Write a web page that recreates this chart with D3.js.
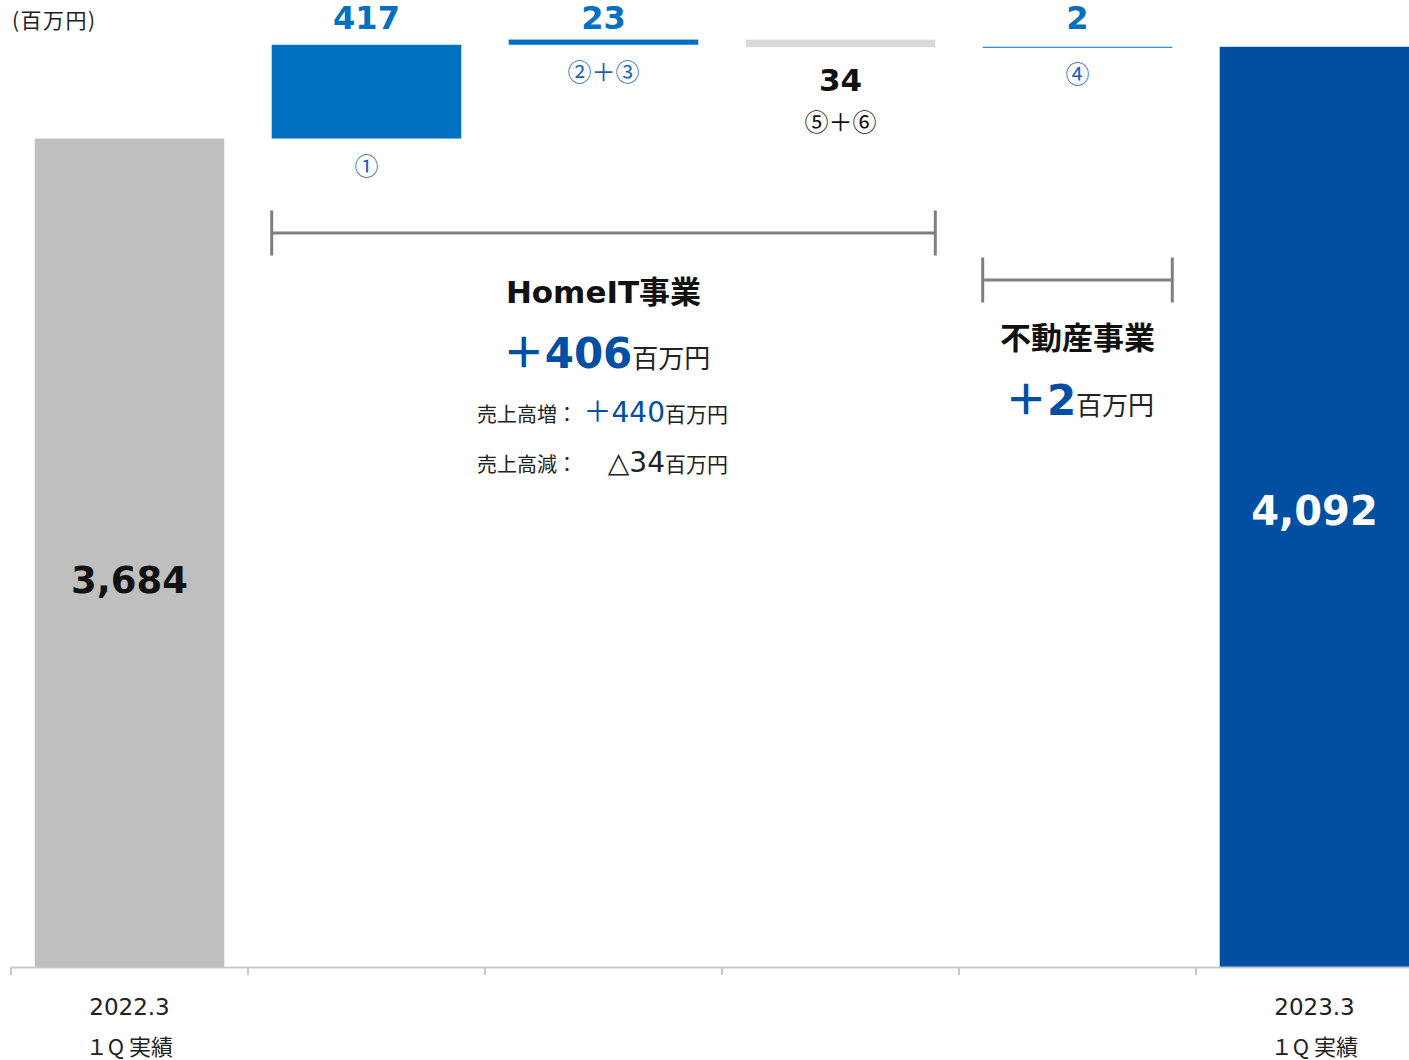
<!DOCTYPE html>
<html lang="ja">
<head>
<meta charset="utf-8">
<script src="https://cdn.jsdelivr.net/npm/d3@7"></script>
<style>
  html, body { margin: 0; padding: 0; background: #fff; }
  svg { display: block; }
  text { font-family: "DejaVu Sans", "Noto Sans CJK JP", sans-serif; }
  .jp { font-family: "Noto Sans CJK JP", "DejaVu Sans", sans-serif; }
</style>
</head>
<body>
<svg id="chart" width="1409" height="1060"></svg>
<script>
// Operating profit bridge, 2022.3 1Q → 2023.3 1Q (百万円)
const categories = ["start", "d1", "d23", "d56", "d4", "end"];
const startValue = 3684;
const endValue = 4092;
const deltaValues = [417, 23, -34, 2];          // ①, ②+③, ⑤+⑥, ④
const deltaLabels = ["417", "23", "34", "2"];
const circledLabels = ["①", "②＋③", "⑤＋⑥", "④"];
const totalLabels = ["3,684", "4,092"];
const xTickLabels = [["2022.3", "１Q 実績"], ["", ""], ["", ""], ["", ""], ["", ""], ["2023.3", "１Q 実績"]];

const BLUE = "#0070c0";
const DARK_BLUE = "#004fa3";
const GRAY = "#bfbfbf";
const LIGHT_GRAY = "#d9d9d9";
const BRACKET = "#7f7f7f";

const svg = d3.select("#chart");

const x = d3.scaleBand()
  .domain(categories)
  .range([11, 11 + 6 * 237])
  .paddingInner(0.2)
  .paddingOuter(0.1);

const y = d3.scaleLinear().domain([0, 4300]).range([967, 0]);

// build waterfall segments
let running = startValue;
const steps = deltaValues.map((d, i) => {
  const from = running;
  running += d;
  return { key: categories[i + 1], from, to: running, delta: d, label: deltaLabels[i], circ: circledLabels[i] };
});

// totals
svg.append("rect")
  .attr("x", x("start")).attr("width", x.bandwidth())
  .attr("y", y(startValue)).attr("height", y(0) - y(startValue))
  .attr("fill", GRAY);
svg.append("rect")
  .attr("x", x("end")).attr("width", x.bandwidth())
  .attr("y", y(endValue)).attr("height", y(0) - y(endValue))
  .attr("fill", DARK_BLUE);

// change bars
steps.forEach(s => {
  const top = y(Math.max(s.from, s.to));
  const bot = y(Math.min(s.from, s.to));
  svg.append("rect")
    .attr("x", x(s.key)).attr("width", x.bandwidth())
    .attr("y", top).attr("height", Math.max(1, bot - top))
    .attr("fill", s.delta >= 0 ? BLUE : LIGHT_GRAY);
});

// x axis: baseline with ticks at category boundaries
const boundaries = categories.map(c => x(c) - x.step() * x.paddingInner() / 2);
svg.append("line")
  .attr("x1", boundaries[0]).attr("x2", 1409)
  .attr("y1", y(0) + 0.5).attr("y2", y(0) + 0.5)
  .attr("stroke", "#c8c8c8").attr("stroke-width", 2);
boundaries.forEach(bx => {
  svg.append("line")
    .attr("x1", bx).attr("x2", bx)
    .attr("y1", y(0)).attr("y2", y(0) + 8)
    .attr("stroke", "#c8c8c8").attr("stroke-width", 2);
});
categories.forEach((c, i) => {
  const cx = x(c) + x.bandwidth() / 2;
  svg.append("text").attr("x", cx).attr("y", 1015)
    .attr("text-anchor", "middle").attr("font-size", 23).attr("fill", "#222")
    .text(xTickLabels[i][0]);
  svg.append("text").attr("class", "jp").attr("x", cx).attr("y", 1055)
    .attr("text-anchor", "middle").attr("font-size", 22).attr("fill", "#222")
    .text(xTickLabels[i][1]);
});

// unit
svg.append("text").attr("class", "jp").attr("x", 12).attr("y", 28)
  .attr("font-size", 21).attr("letter-spacing", 1.5).attr("fill", "#222").text("(百万円)");

// total labels
svg.append("text")
  .attr("x", x("start") + x.bandwidth() / 2).attr("y", 593)
  .attr("text-anchor", "middle").attr("font-size", 37).attr("font-weight", "bold")
  .attr("fill", "#111").text(totalLabels[0]);
svg.append("text")
  .attr("x", x("end") + x.bandwidth() / 2).attr("y", 525)
  .attr("text-anchor", "middle").attr("font-size", 40).attr("font-weight", "bold")
  .attr("fill", "#fff").text(totalLabels[1]);

// change labels
steps.forEach(s => {
  const cx = x(s.key) + x.bandwidth() / 2;
  const bot = y(Math.min(s.from, s.to));
  if (s.delta >= 0) {
    svg.append("text").attr("x", cx).attr("y", 29)
      .attr("text-anchor", "middle").attr("font-size", 32).attr("font-weight", "bold")
      .attr("fill", BLUE).text(s.label);
    svg.append("text").attr("class", "jp").attr("x", cx).attr("y", bot + 36)
      .attr("text-anchor", "middle").attr("font-size", 24)
      .attr("fill", "#1f5fb0").text(s.circ);
  } else {
    svg.append("text").attr("x", cx).attr("y", bot + 44)
      .attr("text-anchor", "middle").attr("font-size", 31).attr("font-weight", "bold")
      .attr("fill", "#111").text(s.label);
    svg.append("text").attr("class", "jp").attr("x", cx).attr("y", bot + 84)
      .attr("text-anchor", "middle").attr("font-size", 24)
      .attr("fill", "#111").text(s.circ);
  }
});

// segment brackets
function bracket(x1, x2, yMid, half) {
  const g = svg.append("g").attr("stroke", BRACKET).attr("stroke-width", 3).attr("fill", "none");
  g.append("line").attr("x1", x1).attr("x2", x2).attr("y1", yMid).attr("y2", yMid);
  g.append("line").attr("x1", x1).attr("x2", x1).attr("y1", yMid - half).attr("y2", yMid + half);
  g.append("line").attr("x1", x2).attr("x2", x2).attr("y1", yMid - half).attr("y2", yMid + half);
}
bracket(x("d1"), x("d56") + x.bandwidth(), 233, 22.5);
bracket(x("d4"), x("d4") + x.bandwidth(), 280, 22.5);

// HomeIT segment summary
const homeCx = (x("d1") + x("d56") + x.bandwidth()) / 2;
svg.append("text").attr("x", homeCx).attr("y", 303)
  .attr("text-anchor", "middle").attr("font-size", 31).attr("font-weight", "bold")
  .attr("fill", "#111").text("HomeIT事業");

const t406 = svg.append("text").attr("x", homeCx + 3).attr("y", 368).attr("text-anchor", "middle");
t406.append("tspan").attr("font-size", 42).attr("font-weight", "bold").attr("fill", DARK_BLUE).text("＋406");
t406.append("tspan").attr("class", "jp").attr("font-size", 26).attr("fill", "#222").text("百万円");

// sales breakdown rows: label, value (right-aligned), unit
function breakdownRow(yBase, label, value, valueColor) {
  svg.append("text").attr("class", "jp").attr("x", 477).attr("y", yBase)
    .attr("font-size", 20).attr("fill", "#222").text(label);
  svg.append("text").attr("x", 665).attr("y", yBase).attr("text-anchor", "end")
    .attr("font-size", 28).attr("fill", valueColor).text(value);
  svg.append("text").attr("class", "jp").attr("x", 665).attr("y", yBase)
    .attr("font-size", 21).attr("fill", "#222").text("百万円");
}
breakdownRow(422, "売上高増：", "＋440", DARK_BLUE);
breakdownRow(472, "売上高減：", "△34", "#222");

// Real estate segment summary
const reCx = x("d4") + x.bandwidth() / 2;
svg.append("text").attr("x", reCx).attr("y", 349)
  .attr("text-anchor", "middle").attr("font-size", 31).attr("font-weight", "bold")
  .attr("fill", "#111").text("不動産事業");
const t2 = svg.append("text").attr("x", reCx + 2).attr("y", 415).attr("text-anchor", "middle");
t2.append("tspan").attr("font-size", 42).attr("font-weight", "bold").attr("fill", DARK_BLUE).text("＋2");
t2.append("tspan").attr("class", "jp").attr("font-size", 26).attr("fill", "#222").text("百万円");
</script>
</body>
</html>
